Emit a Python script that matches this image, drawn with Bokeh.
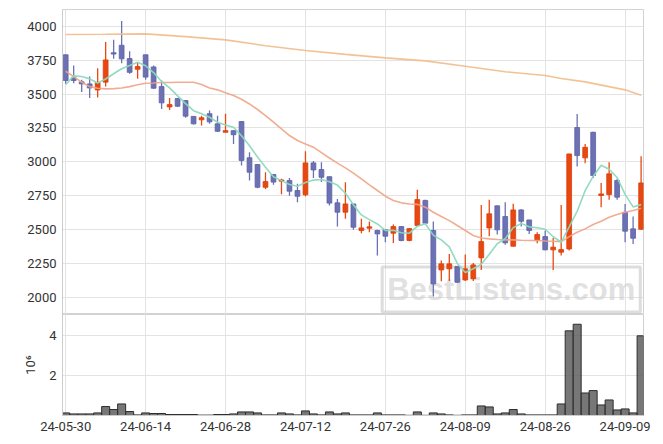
from bokeh.plotting import figure
from bokeh.layouts import column
from bokeh.models import Range1d, FixedTicker, Label
from bokeh.embed import file_html
from bokeh.resources import INLINE

# ---- data (trading-day index 0..72, 2024-05-30 .. 2024-09-11) ----
tick_labels = ["24-05-30", "24-06-14", "24-06-28", "24-07-12",
               "24-07-26", "24-08-09", "24-08-26", "24-09-09"]
tick_step = 10

open_ = [3790, 3620, 3590, 3575, 3530, 3588, 3805, 3860, 3762, 3683,
         3790, 3700, 3555, 3405, 3467, 3452, 3335, 3310, 3355, 3280,
         3218, 3230, 3297, 3030, 2980, 2812, 2906, 2857, 2862, 2788,
         2756, 2992, 2943, 2890, 2697, 2628, 2689, 2493, 2510, 2493,
         2500, 2473, 2522, 2419, 2530, 2715, 2493, 2202, 2210, 2227,
         2128, 2136, 2291, 2512, 2675, 2596, 2377, 2645, 2571, 2419,
         2448, 2350, 2333, 2357, 3253, 3029, 3218, 2751, 2758, 2862,
         2628, 2505, 2502]
high = [3790, 3710, 3605, 3630, 3690, 3885, 3900, 4040, 3815, 3730,
        3790, 3710, 3600, 3470, 3470, 3455, 3338, 3340, 3378, 3340,
        3354, 3232, 3300, 3070, 2982, 2923, 2910, 2875, 2880, 2838,
        3078, 3005, 2997, 2892, 2726, 2849, 2690, 2579, 2560, 2498,
        2502, 2537, 2525, 2510, 2793, 2720, 2560, 2271, 2320, 2230,
        2315, 2254, 2682, 2719, 2678, 2702, 2690, 2650, 2573, 2480,
        2493, 2438, 2682, 3060, 3353, 3132, 3222, 2844, 2997, 2874,
        2689, 2596, 3041]
low = [3575, 3580, 3515, 3470, 3475, 3555, 3760, 3727, 3650, 3612,
       3605, 3540, 3390, 3383, 3405, 3325, 3275, 3268, 3280, 3220,
       3218, 3132, 2972, 2862, 2805, 2800, 2830, 2760, 2750, 2702,
       2746, 2880, 2850, 2677, 2522, 2579, 2498, 2473, 2480, 2308,
       2406, 2400, 2414, 2414, 2525, 2540, 2005, 2119, 2120, 2108,
       2120, 2120, 2202, 2451, 2463, 2387, 2375, 2522, 2468, 2399,
       2348, 2202, 2308, 2345, 2965, 2990, 2880, 2665, 2719, 2719,
       2406, 2394, 2498]
close = [3600, 3600, 3575, 3545, 3585, 3752, 3795, 3760, 3660, 3703,
         3625, 3543, 3435, 3422, 3410, 3337, 3280, 3325, 3295, 3225,
         3230, 3200, 3010, 2923, 2812, 2854, 2850, 2866, 2783, 2746,
         2992, 2940, 2886, 2695, 2628, 2689, 2517, 2512, 2520, 2468,
         2451, 2522, 2419, 2507, 2721, 2547, 2099, 2247, 2247, 2111,
         2210, 2239, 2411, 2616, 2498, 2402, 2645, 2561, 2493, 2463,
         2350, 2370, 2352, 3058, 3046, 3107, 2899, 2763, 2911, 2739,
         2488, 2436, 2844]
volume_m = [0.13, 0.08, 0.08, 0.08, 0.13, 0.45, 0.30, 0.58, 0.20, 0.03,
            0.13, 0.10, 0.10, 0.05, 0.05, 0.05, 0.05, 0.02, 0.02, 0.05,
            0.05, 0.08, 0.18, 0.18, 0.13, 0.03, 0.03, 0.13, 0.08, 0.03,
            0.23, 0.08, 0.03, 0.18, 0.08, 0.13, 0.03, 0.03, 0.03, 0.13,
            0.03, 0.03, 0.03, 0.01, 0.18, 0.01, 0.13, 0.08, 0.03, 0.01,
            0.03, 0.03, 0.48, 0.43, 0.08, 0.13, 0.30, 0.08, 0.03, 0.03,
            0.03, 0.03, 0.58, 4.25, 4.58, 1.13, 1.25, 0.53, 0.78, 0.28,
            0.33, 0.13, 4.00]
ma5 = [3570, 3634, 3629, 3612, 3581, 3611, 3650, 3687, 3710, 3734,
       3709, 3658, 3593, 3546, 3487, 3429, 3377, 3355, 3329, 3292,
       3271, 3255, 3192, 3118, 3035, 2960, 2890, 2861, 2833, 2820,
       2847, 2865, 2869, 2852, 2828, 2768, 2683, 2608, 2573, 2541,
       2494, 2495, 2476, 2473, 2524, 2543, 2459, 2424, 2372, 2250,
       2183, 2211, 2244, 2317, 2395, 2433, 2514, 2544, 2520, 2513,
       2502, 2447, 2406, 2519, 2635, 2787, 2892, 2975, 2945, 2884,
       2760, 2667, 2684]
ma20 = [3668, 3629, 3587, 3555, 3543, 3538, 3540, 3545, 3555, 3568,
        3580, 3582, 3585, 3585, 3587, 3587, 3587, 3570, 3545, 3531,
        3509, 3489, 3462, 3427, 3386, 3341, 3292, 3243, 3194, 3157,
        3132, 3108, 3068, 3028, 2990, 2955, 2916, 2874, 2830, 2788,
        2746, 2714, 2697, 2689, 2686, 2665, 2628, 2596, 2566, 2530,
        2493, 2456, 2438, 2431, 2426, 2424, 2424, 2421, 2419, 2419,
        2416, 2414, 2411, 2448, 2480, 2505, 2537, 2561, 2591, 2611,
        2628, 2640, 2657]
malong_idx = [0, 5, 10, 15, 20, 25, 30, 35, 40, 45, 50, 55, 60, 62, 65, 70, 72]
malong = [3939, 3941, 3944, 3924, 3900, 3857, 3821, 3793, 3767, 3745,
          3705, 3665, 3637, 3615, 3590, 3531, 3491]

# ---- styling ----
UP = "#E8480F"
DOWN = "#6B71B3"
FONT = "Roboto"
LBL = "#333333"
GRID = "#e3e3e3"

n = len(close)
idx = list(range(n))
colors = [UP if c >= o else DOWN for o, c in zip(open_, close)]
edge = ["#D8400C" if c >= o else "#5C62A6" for o, c in zip(open_, close)]
tops = [max(o, c) for o, c in zip(open_, close)]
bots = [min(o, c) for o, c in zip(open_, close)]
tick_pos = list(range(0, n, tick_step))[:len(tick_labels)]

xr = Range1d(-0.4, 72.3)

p = figure(width=655, height=314, x_range=xr, y_range=Range1d(1873, 4124),
           output_backend="svg", toolbar_location=None,
           min_border_left=62, min_border_right=12, min_border_top=9,
           min_border_bottom=0)
p.xaxis.visible = False
p.xgrid.ticker = FixedTicker(ticks=tick_pos)
p.yaxis.ticker = FixedTicker(ticks=[2000, 2250, 2500, 2750, 3000, 3250, 3500, 3750, 4000])
p.grid.grid_line_color = GRID
p.outline_line_color = "#d2d2d2"
for ax in p.yaxis:
    ax.major_label_text_font = FONT
    ax.major_label_text_font_size = "13px"
    ax.major_label_text_color = LBL
    ax.major_tick_line_color = None
    ax.minor_tick_line_color = None
    ax.major_tick_out = 0
    ax.major_label_standoff = 6
    ax.axis_line_color = "#cccccc"

wm = Label(x=55.75, y=2057, text="BestListens.com", text_font="Liberation Sans",
           text_font_style="bold", text_font_size="31px", text_color="#cfcfcf",
           text_alpha=0.65, text_align="center", text_baseline="middle",
           border_line_color="#cfcfcf", border_line_width=3, border_line_alpha=0.7,
           padding=5, level="underlay")
p.add_layout(wm)

p.segment(x0=idx, y0=low, x1=idx, y1=high, line_color=colors, line_width=1.3)
p.vbar(x=idx, width=0.6, top=tops, bottom=bots, fill_color=colors,
       line_color=edge, line_width=0.8)

p.line(malong_idx, malong, line_color="#F2BB88", line_width=1.6, line_alpha=0.9)
p.line(idx, ma20, line_color="#F0A386", line_width=1.6, line_alpha=0.9)
p.line(idx, ma5, line_color="#8CD9BE", line_width=1.6, line_alpha=0.95)

v = figure(width=655, height=124, x_range=xr, y_range=Range1d(0, 5.07),
           output_backend="svg", toolbar_location=None,
           min_border_left=62, min_border_right=12, min_border_top=0,
           min_border_bottom=23)
v.vbar(x=idx, top=volume_m, width=1.0, fill_color="#555555", fill_alpha=0.8,
       line_color="#2e2e2e", line_width=1)
v.grid.grid_line_color = GRID
v.outline_line_color = "#d2d2d2"
v.xaxis.ticker = FixedTicker(ticks=tick_pos)
v.xaxis.major_label_overrides = {pos: lab for pos, lab in zip(tick_pos, tick_labels)}
v.yaxis.ticker = FixedTicker(ticks=[2, 4])
v.yaxis.axis_label = "10\u2076"
v.yaxis.axis_label_text_font = FONT
v.yaxis.axis_label_text_font_style = "normal"
v.yaxis.axis_label_text_font_size = "13px"
v.yaxis.axis_label_text_color = LBL
v.yaxis.axis_label_standoff = 8
for ax in list(v.xaxis) + list(v.yaxis):
    ax.major_label_text_font = FONT
    ax.major_label_text_font_size = "13px"
    ax.major_label_text_color = LBL
    ax.major_tick_line_color = None
    ax.minor_tick_line_color = None
    ax.major_tick_out = 0
    ax.axis_line_color = "#cccccc"
v.yaxis.major_label_standoff = 6
v.xaxis.major_label_standoff = 6

layout = column(p, v, spacing=0)
open("out.html", "w").write(file_html(layout, INLINE))
